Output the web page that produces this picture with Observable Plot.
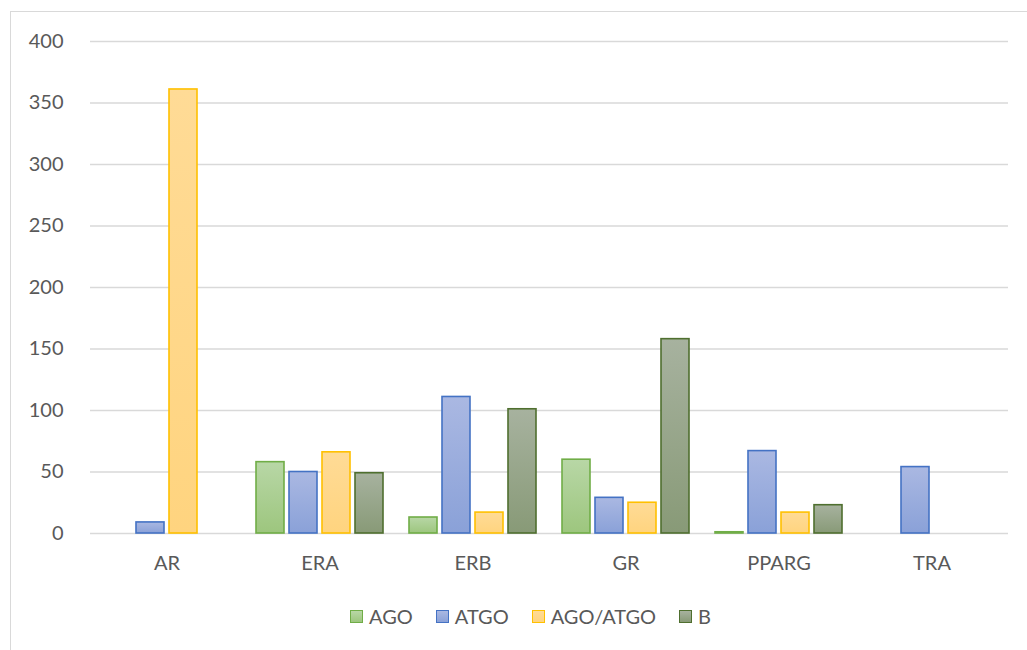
<!DOCTYPE html>
<html>
<head>
<meta charset="utf-8">
<script src="https://cdn.jsdelivr.net/npm/d3@7"></script>
<script src="https://cdn.jsdelivr.net/npm/@observablehq/plot@0.6"></script>
<style>
  html, body { margin: 0; padding: 0; background: #fff; }
  body { width: 1027px; height: 650px; position: relative; overflow: hidden; font-family: Lato, "Open Sans", sans-serif; }
  #frame { position: absolute; left: 10px; top: 11px; width: 1030px; height: 660px; border: 1.5px solid #d9d9d9; box-sizing: border-box; }
  #chart { position: absolute; left: 0; top: 0; }
  #legend { position: absolute; top: 604px; left: 0; width: 1027px; display: flex; justify-content: center; gap: 23px; font-size: 20px; color: #595959; padding-left: 34px; box-sizing: border-box; }
  #legend .item { display: flex; align-items: center; gap: 6px; }
  #legend .sw { width: 11px; height: 11px; border: 1.5px solid; }
</style>
</head>
<body>
<svg width="0" height="0" style="position:absolute">
  <defs id="grads"></defs>
</svg>
<div id="frame"></div>
<div id="chart"></div>
<div id="legend"></div>
<script>
const categories = ["AR", "ERA", "ERB", "GR", "PPARG", "TRA"];
const seriesNames = ["AGO", "ATGO", "AGO/ATGO", "B"];
const agoValues     = [null, 58, 13, 60, 1, null];
const atgoValues    = [9, 50, 111, 29, 67, 54];
const agoAtgoValues = [361, 66, 17, 25, 17, null];
const bValues       = [null, 49, 101, 158, 23, null];
const yTicks = [0, 50, 100, 150, 200, 250, 300, 350, 400];

const strokeColors = {"AGO": "#70ad47", "ATGO": "#4472c4", "AGO/ATGO": "#ffc000", "B": "#4f6f2f"};
const gradStops = {
  "AGO": ["#b8d7a6", "#9dc67e"],
  "ATGO": ["#aab8e2", "#8aa1d8"],
  "AGO/ATGO": ["#ffdb96", "#ffd47f"],
  "B": ["#a7b29f", "#889a77"]
};
const gradId = s => "grad" + seriesNames.indexOf(s);

// gradient defs
const defs = document.getElementById("grads");
seriesNames.forEach(s => {
  const ns = "http://www.w3.org/2000/svg";
  const g = document.createElementNS(ns, "linearGradient");
  g.setAttribute("id", gradId(s));
  g.setAttribute("x1", "0"); g.setAttribute("y1", "0");
  g.setAttribute("x2", "0"); g.setAttribute("y2", "1");
  gradStops[s].forEach((c, i) => {
    const st = document.createElementNS(ns, "stop");
    st.setAttribute("offset", i === 0 ? "0" : "1");
    st.setAttribute("stop-color", c);
    g.appendChild(st);
  });
  defs.appendChild(g);
});

const seriesValues = [agoValues, atgoValues, agoAtgoValues, bValues];
const data = [];
categories.forEach((c, i) => {
  seriesNames.forEach((s, j) => {
    const v = seriesValues[j][i];
    if (v != null && v > 0) data.push({category: c, series: s, value: v});
  });
});

const plot = Plot.plot({
  width: 1027,
  height: 600,
  marginLeft: 87,
  marginRight: 17,
  marginTop: 41,
  marginBottom: 67,
  style: {fontFamily: "Lato, 'Open Sans', sans-serif", fontSize: "20px", color: "#595959", background: "transparent"},
  fx: {domain: categories, paddingInner: 0.17, paddingOuter: 0.085, label: null, tickSize: 0, tickPadding: 22, axis: "bottom"},
  x: {domain: seriesNames, paddingInner: 0.16, paddingOuter: 0, axis: null},
  y: {domain: [0, 400], ticks: yTicks, tickSize: 0, tickPadding: 40, label: null, grid: false, tickFormat: d => String(d)},
  marks: [
    Plot.ruleY(yTicks, {stroke: "#d9d9d9", strokeWidth: 1.3, insetLeft: -13, insetRight: -13}),
    Plot.barY(data, {
      fx: "category",
      x: "series",
      y: "value",
      fill: d => `url(#${gradId(d.series)})`,
      stroke: d => strokeColors[d.series],
      strokeWidth: 1.6
    })
  ]
});
document.getElementById("chart").appendChild(plot);

// legend
const legend = document.getElementById("legend");
seriesNames.forEach(s => {
  const item = document.createElement("div");
  item.className = "item";
  const sw = document.createElement("div");
  sw.className = "sw";
  sw.style.borderColor = strokeColors[s];
  sw.style.background = `linear-gradient(${gradStops[s][0]}, ${gradStops[s][1]})`;
  const t = document.createElement("span");
  t.textContent = s;
  item.appendChild(sw);
  item.appendChild(t);
  legend.appendChild(item);
});
</script>
</body>
</html>
